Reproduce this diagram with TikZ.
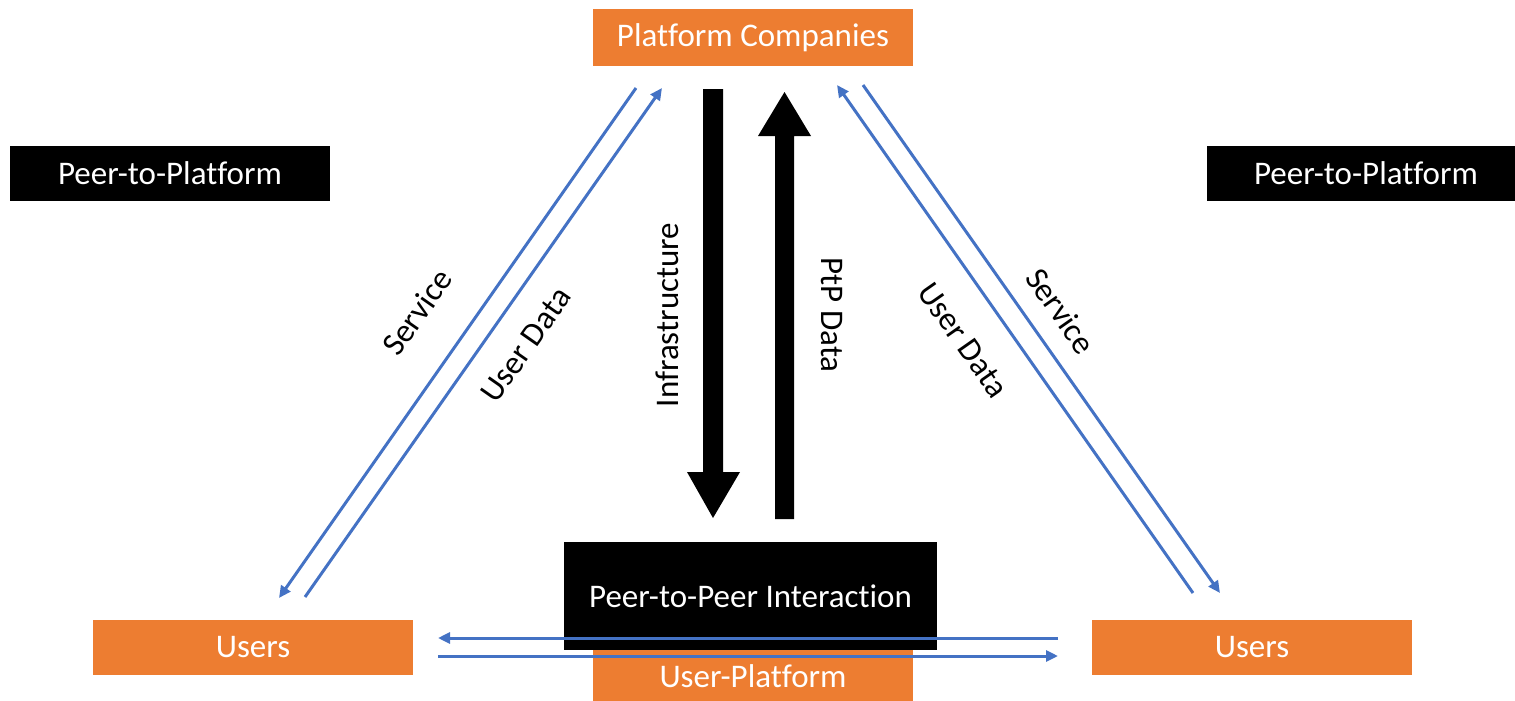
\documentclass[tikz,border=0pt]{standalone}
\usepackage{fontspec}
\setmainfont{Carlito}[Ligatures=CommonOff]
\usetikzlibrary{arrows.meta}
\definecolor{orng}{HTML}{ED7D31}
\definecolor{blu}{HTML}{4472C4}
\begin{document}
\begin{tikzpicture}[x=1pt,y=-1pt,
  lbl/.style={font=\fontsize{33}{36}\selectfont, inner sep=0pt},
  obox/.style={lbl, fill=orng, text=white, minimum width=320pt, minimum height=55pt},
  bbox/.style={lbl, fill=black, text=white, minimum height=55pt},
  flow/.style={blu, line width=3pt, -{Triangle[length=12pt 0 0, width=11pt 0 0]}},
  bigarrow/.style={fill=black}
]
\useasboundingbox (0,0) rectangle (1515,701);
% nodes
\node[obox, minimum height=57pt] (pc) at (753,37.5) {Platform Companies};
\node[bbox, minimum width=320pt] (p2pl) at (170,173.5) {Peer-to-Platform};
\node[bbox, minimum width=308pt] (p2pr) at (1361,173.5) {};
\node[lbl, text=white] (p2prt) at (1366,173.5) {Peer-to-Platform};
\node[obox] (ul) at (253,647.5) {Users};
\node[obox] (ur) at (1252,647.5) {Users};
\node[obox, minimum height=53pt] (upl) at (753,676.5) {User-Platform};
\node[bbox, minimum width=373pt, minimum height=108pt] (p2p) at (750.5,596) {Peer-to-Peer Interaction};

% big black arrows (Platform Companies <-> Peer-to-Peer)
\fill[bigarrow] (703,89) -- (723,89) -- (723,472) -- (740,472) -- (713,518) -- (687,472) -- (703,472) -- cycle;
\fill[bigarrow] (775,519) -- (794,519) -- (794,136) -- (811,136) -- (784.5,92) -- (758,136) -- (775,136) -- cycle;

% connector end points
\coordinate (sl1) at (636,88);
\coordinate (sl2) at (279,598);
\coordinate (dl1) at (305,597);
\coordinate (dl2) at (662,88);
\coordinate (dr1) at (1193,593);
\coordinate (dr2) at (837,85);
\coordinate (sr1) at (863,85);
\coordinate (sr2) at (1220,593);
\coordinate (h1a) at (1058,638);
\coordinate (h1b) at (438,638);
\coordinate (h2a) at (438,656);
\coordinate (h2b) at (1058,656);

\draw[flow] (sl1) -- (sl2);
\draw[flow] (dl1) -- (dl2);
\draw[flow] (dr1) -- (dr2);
\draw[flow] (sr1) -- (sr2);
\draw[flow] (h1a) -- (h1b);
\draw[flow] (h2a) -- (h2b);

% labels
\node[lbl, rotate=55] (ls) at (417,312) {Service};
\node[lbl, rotate=55] (lud) at (526,345) {User Data};
\node[lbl, rotate=-55] (rud) at (963,340) {User Data};
\node[lbl, rotate=-55] (rs) at (1061,311) {Service};
\node[lbl, rotate=90] (inf) at (667,315) {Infrastructure};
\node[lbl, rotate=-90] (ptp) at (832,315) {PtP Data};
\end{tikzpicture}
\end{document}
